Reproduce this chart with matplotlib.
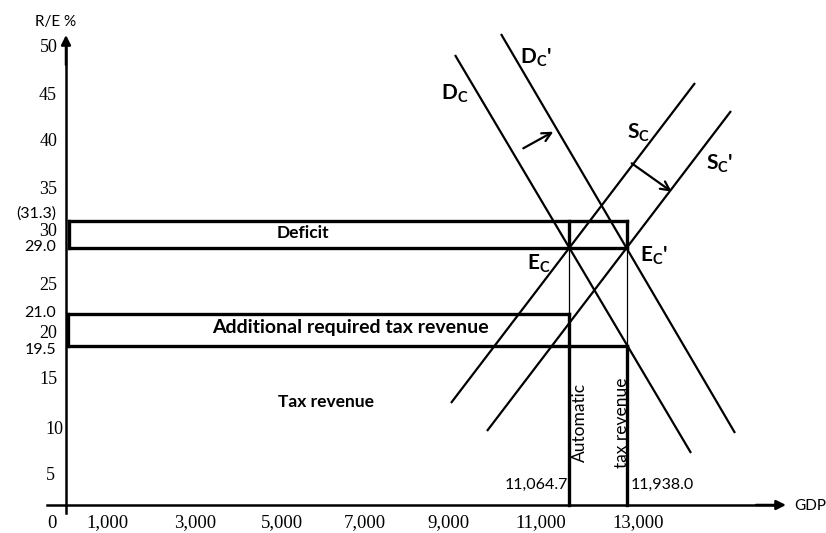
import matplotlib.pyplot as plt

# ---- data (diagram is schematic: positions are in diagram units, origin = axis crossing) ----
y_tick_labels = ['50', '45', '40', '35', '30', '25', '20', '15', '10', '5']
y_tick_pos = [458, 409, 363, 316, 273, 219, 171, 125, 75, 30]
y_tick_right = [-8, -9, -9, -9, -9, -9, -9, -8, -3, -11]

x_tick_labels = ['0', '1,000', '3,000', '5,000', '7,000', '9,000', '11,000', '13,000']
x_tick_pos = [-14, 41, 129, 216, 299, 382, 475, 572]

rate_labels = ['(31.3)', '29.0', '21.0', '19.5']
rate_pos = [284.3, 257.3, 191.0, 159.3]
rate_label_y = [291, 258, 192, 155]

gdp_labels = ['11,064.7', '11,938.0']
gdp_pos = [503.3, 560.7]

# demand / supply curves (end points)
dc_x, dc_y = [389, 625], [450, 52]
dc2_x, dc2_y = [435, 669], [471, 72]
sc_x, sc_y = [385, 629], [102, 422]
sc2_x, sc2_y = [421, 665], [74, 394]

# shift arrows
shift_d = [(457.3, 356.7), (487.3, 373.3)]
shift_s = [(565.7, 341.7), (605.7, 313.3)]

plt.rcParams['mathtext.fontset'] = 'custom'
plt.rcParams['mathtext.bf'] = 'Lato:bold'
plt.rcParams['mathtext.rm'] = 'Lato'

fig = plt.figure(figsize=(8.26, 5.33), dpi=100)
ax = fig.add_axes([0, 0, 1, 1])
ax.set_xlim(-66, 760)
ax.set_ylim(-28, 505)
ax.axis('off')

K = 'black'
serif = 'Liberation Serif'
sans = 'Lato'

# axes with arrow heads
ax.plot([0, 0], [-8, 460], color=K, lw=1.8)
ax.annotate('', xy=(0, 470), xytext=(0, 440),
            arrowprops=dict(arrowstyle='-|>', color=K, lw=1.8, mutation_scale=14,
                            shrinkA=0, shrinkB=0))
ax.plot([-19, 710], [0, 0], color=K, lw=1.8)
ax.annotate('', xy=(720, 0), xytext=(690, 0),
            arrowprops=dict(arrowstyle='-|>', color=K, lw=1.8, mutation_scale=14,
                            shrinkA=0, shrinkB=0))

# deficit rectangle
y_top, y_eq, y_add, y_tax = rate_pos
x_e, x_e2 = gdp_pos
thick = 2.4
ax.plot([2.5, x_e2], [y_top, y_top], color=K, lw=thick)
ax.plot([2.5, x_e2], [y_eq, y_eq], color=K, lw=thick)
ax.plot([2.5, 2.5], [y_eq, y_top], color=K, lw=thick)
ax.plot([x_e2, x_e2], [y_eq, y_top], color=K, lw=thick)
ax.plot([x_e, x_e], [y_eq, y_top], color=K, lw=thick)

# additional required tax revenue rectangle
ax.plot([1.5, x_e], [y_add, y_add], color=K, lw=thick)
ax.plot([1.5, x_e2], [y_tax, y_tax], color=K, lw=thick)
ax.plot([1.5, 1.5], [y_tax, y_add], color=K, lw=thick)

# verticals (thin above, thick below)
ax.plot([x_e, x_e], [y_add, y_eq], color=K, lw=0.9)
ax.plot([x_e2, x_e2], [y_tax, y_eq], color=K, lw=0.9)
ax.plot([x_e, x_e], [0, y_add], color=K, lw=thick)
ax.plot([x_e2, x_e2], [0, y_tax], color=K, lw=thick)

# demand and supply curves
for xs, ys in [(dc_x, dc_y), (dc2_x, dc2_y), (sc_x, sc_y), (sc2_x, sc2_y)]:
    ax.plot(xs, ys, color=K, lw=1.6, solid_capstyle='butt')

for tail, head in [shift_d, shift_s]:
    ax.annotate('', xy=head, xytext=tail,
                arrowprops=dict(arrowstyle='->', color=K, lw=1.6, mutation_scale=16,
                                shrinkA=0, shrinkB=0))

# curve labels
lab_kw = dict(fontsize=15, fontfamily=sans, fontweight='bold', ha='left', va='center')
ax.text(374.7, 411, r'$\mathbf{D_C}$', **lab_kw)
ax.text(454, 447, r"$\mathbf{D_C}$'", **lab_kw)
ax.text(560.7, 372, r'$\mathbf{S_C}$', **lab_kw)
ax.text(640, 341, r"$\mathbf{S_C}$'", **lab_kw)
ax.text(461.3, 241, r'$\mathbf{E_C}$', **lab_kw)
ax.text(574, 249, r"$\mathbf{E_C}$'", **lab_kw)

# area labels
ax.text(236.7, 272, 'Deficit', fontsize=12.5, fontfamily=sans, fontweight='bold',
        ha='center', va='center')
ax.text(145.7, 177.3, 'Additional required tax revenue', fontsize=14, fontfamily=sans,
        fontweight='bold', ha='left', va='center')
ax.text(259.5, 103, 'Tax revenue', fontsize=12.5, fontfamily=sans, fontweight='bold',
        ha='center', va='center')
ax.text(514, 82.5, 'Automatic', fontsize=12.5, fontfamily=sans, rotation=90,
        ha='center', va='center')
ax.text(555.7, 82, 'tax revenue', fontsize=12.5, fontfamily=sans, rotation=90,
        ha='center', va='center')

# tick labels
for lab, yp, xr in zip(y_tick_labels, y_tick_pos, y_tick_right):
    ax.text(xr, yp, lab, fontsize=13, fontfamily=serif, ha='right', va='center')
for lab, xp in zip(x_tick_labels, x_tick_pos):
    ax.text(xp, -18, lab, fontsize=13.5, fontfamily=serif, ha='center', va='center')
for lab, yp in zip(rate_labels, rate_label_y):
    ax.text(-10, yp, lab, fontsize=11.5, fontfamily=sans, ha='right', va='center')

ax.text(x_e - 1, 20, gdp_labels[0], fontsize=11.5, fontfamily=sans, ha='right', va='center')
ax.text(x_e2 + 4, 20, gdp_labels[1], fontsize=11.5, fontfamily=sans, ha='left', va='center')

ax.text(-10, 483, 'R/E %', fontsize=11, fontfamily=sans, ha='center', va='center')
ax.text(728, -1, 'GDP', fontsize=11, fontfamily=sans, ha='left', va='center')

fig.savefig('out.png', dpi=100, facecolor='white')
